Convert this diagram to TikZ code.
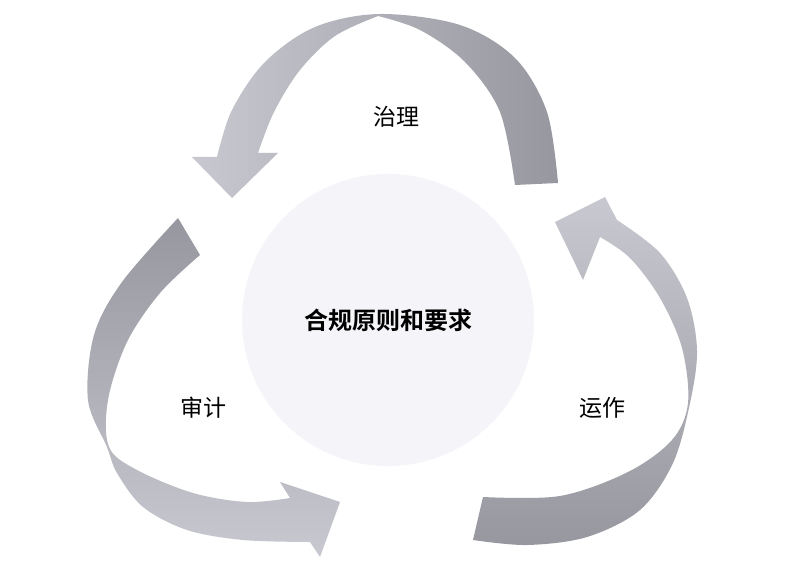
\documentclass[tikz,border=0pt]{standalone}
\usepackage{fontspec}
\newfontfamily\cjk{Noto Sans CJK SC}[BoldFont={Noto Sans CJK SC Bold}]
\definecolor{dk}{HTML}{97979F}
\definecolor{lt}{HTML}{C8C8D0}
\definecolor{cfill}{HTML}{F4F4F9}
\tikzset{lbl/.style={font=\cjk\fontsize{23}{27}\selectfont},sm/.style={smooth,tension=0.55}}
\begin{document}
\begin{tikzpicture}[x=1pt,y=-1pt]
\useasboundingbox (0,0) rectangle (793,569);
\fill[white] (0,0) rectangle (793,569);
\node[circle,fill=cfill,minimum size=292pt,inner sep=0pt] (core) at (388,320) {};
\node[font=\cjk\bfseries\fontsize{24}{28}\selectfont] (t0) at (388,320) {合规原则和要求};
% top arrow
\shade[left color=lt,right color=dk]
 (515,185) -- plot[sm] coordinates {(515,185) (500,112) (465,62) (420,30) (378,16)}
 -- plot[sm] coordinates {(378,16) (335,36) (300,70) (274,112) (258,153)}
 -- (278,153) -- (232,198) -- (192,157) -- (217,157)
 -- plot[sm] coordinates {(217,157) (232,110) (265,62) (315,27) (380,14) (460,25) (515,58) (547,112) (558,183)}
 -- cycle;
% right arrow
\shade[top color=lt,bottom color=dk]
 (473,540) -- (483,497)
 -- plot[sm] coordinates {(483,497) (560,496) (628,472) (672,440) (688,403) (682,348) (660,298) (630,258) (600,237)}
 -- (583,280) -- (555,222) -- (605,197) -- (617,220)
 -- plot[sm] coordinates {(617,220) (660,253) (687,298) (697,350) (690,403) (673,463) (640,510) (587,537) (527,545) (473,540)}
 -- cycle;
% left arrow
\shade[top color=dk,bottom color=lt]
 (178,218) -- (200,255)
 -- plot[sm] coordinates {(200,255) (160,293) (127,342) (108,400) (109,447) (137,470) (193,493) (247,502) (290,498)}
 -- (280,482) -- (340,502) -- (320,557) -- (310,542)
 -- plot[sm] coordinates {(310,542) (243,540) (187,530) (143,507) (117,473) (107,447) (88,400) (94,335) (122,282) (178,218)}
 -- cycle;
\node[lbl] (t1) at (396,117) {治理};
\node[lbl] (t2) at (602,408) {运作};
\node[lbl] (t3) at (203,408) {审计};
\end{tikzpicture}
\end{document}
